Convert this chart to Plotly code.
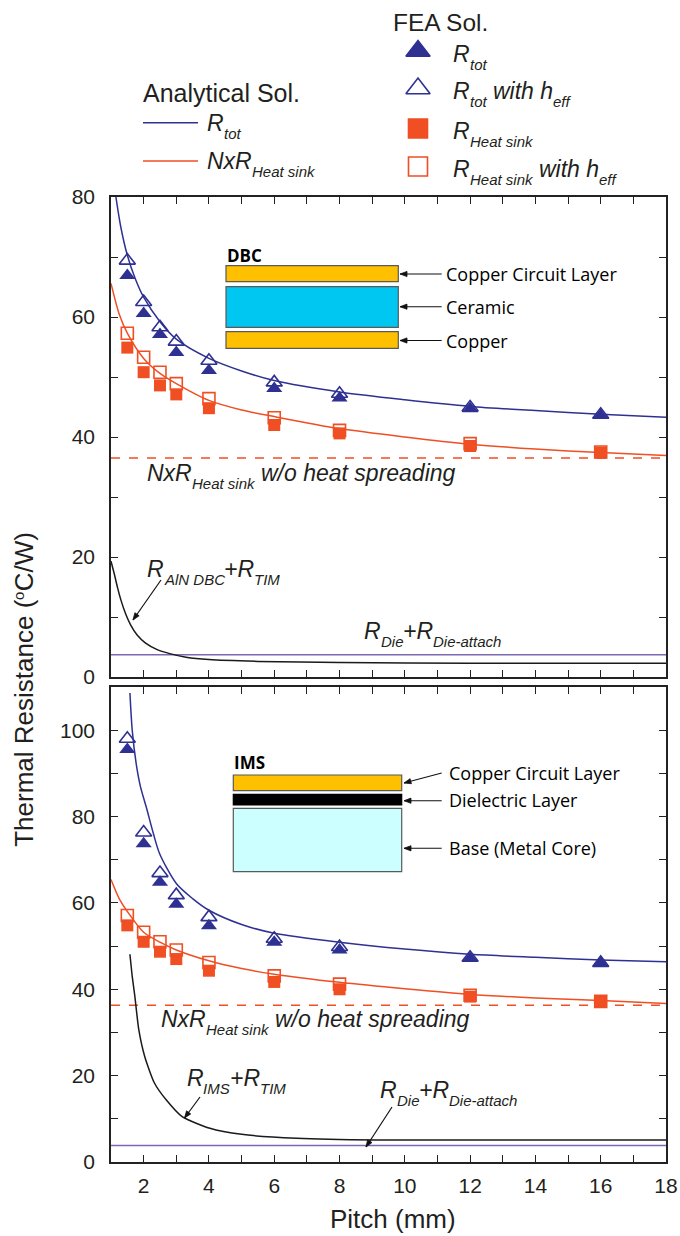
import math
import plotly.graph_objects as go

W, H = 680, 1236

# ---------------- data ----------------
pitch_fea = [1.5, 2, 2.5, 3, 4, 6, 8, 12, 16]

# DBC (top panel) FEA
dbc_rtot_fea = [66.9, 60.6, 57.1, 54.1, 51.1, 48.1, 46.5, 44.7, 43.6]
dbc_rtot_heff = [69.4, 62.5, 58.3, 55.9, 52.7, 49.1, 47.2, 44.9, 43.7]
dbc_rhs_fea = [54.9, 50.8, 48.6, 47.1, 44.8, 42.0, 40.6, 38.5, 37.4]
dbc_rhs_heff = [57.3, 53.3, 50.8, 48.9, 46.4, 43.2, 41.1, 38.9, 37.5]

# DBC analytical curves
dbc_tot_x = [1.15, 1.3, 1.5, 1.75, 2, 2.5, 3, 4, 5, 6, 8, 10, 12, 14, 16, 18]
dbc_tot_y = [80, 75, 70.3, 66.3, 63.3, 59.2, 56.3, 53.1, 51.0, 49.4, 47.5, 46.2, 45.1, 44.4, 43.8, 43.3]
dbc_hs_x = [1, 1.25, 1.5, 2, 2.5, 3, 4, 5, 6, 8, 10, 12, 14, 16, 18]
dbc_hs_y = [65.6, 60.5, 57.3, 53.1, 50.6, 48.9, 46.1, 44.5, 43.4, 41.4, 40.0, 38.8, 38.0, 37.4, 36.9]
dbc_tim_x = [1, 1.1, 1.2, 1.3, 1.45, 1.6, 1.8, 2.05, 2.4, 2.8, 3.3, 4.0, 5.5, 8, 12, 18]
dbc_tim_y = [19.3, 17.2, 14.9, 12.9, 10.5, 8.7, 7.0, 5.7, 4.6, 3.9, 3.3, 2.9, 2.6, 2.4, 2.3, 2.3]
dbc_die = 3.7
dbc_hs_nospread = 36.5

# IMS (bottom panel) FEA
ims_rtot_fea = [95.5, 73.7, 64.8, 59.7, 54.7, 50.9, 49.1, 47.1, 46.0]
ims_rtot_heff = [98.0, 76.3, 66.9, 61.8, 56.7, 51.7, 49.8, 47.3, 46.1]
ims_rhs_fea = [54.8, 51.0, 48.7, 47.0, 44.3, 41.7, 40.0, 38.3, 37.1]
ims_rhs_heff = [57.1, 53.2, 51.0, 49.1, 46.2, 43.1, 41.2, 38.6, 37.2]

# IMS analytical curves
ims_tot_x = [1.58, 1.65, 1.77, 1.9, 2.08, 2.3, 2.49, 3.0, 3.5, 4.0, 5.0, 6.0, 8.0, 10.0, 12.0, 14.0, 16.0, 18.0]
ims_tot_y = [108.6, 100.0, 92.3, 87.0, 82.2, 76.0, 71.4, 64.5, 61.0, 58.3, 55.0, 53.0, 50.9, 49.3, 48.1, 47.4, 46.8, 46.4]
ims_hs_x = [1, 1.25, 1.5, 2, 2.5, 3, 4, 5, 6, 8, 10, 12, 14, 16, 18]
ims_hs_y = [65.4, 61.0, 58.0, 53.2, 50.9, 49.1, 46.6, 44.8, 43.5, 41.6, 40.1, 38.8, 38.0, 37.4, 36.7]
ims_tim_x = [1.58, 1.65, 1.73, 1.85, 2.03, 2.33, 2.69, 3.18, 4.03, 5.0, 6.69, 9.1, 12.7, 18]
ims_tim_y = [48.1, 43.0, 38.4, 30.7, 24.5, 18.3, 14.4, 10.5, 7.8, 6.4, 5.5, 5.1, 5.1, 5.1]
ims_die = 3.8
ims_hs_nospread = 36.3

x_range = [1, 18]
x_ticks = [2, 4, 6, 8, 10, 12, 14, 16, 18]

# ---------------- styles ----------------
NAVY = "#2E3192"
RED = "#F04E23"
PURPLE = "#7B68B0"
BLK = "#1a1a1a"
TXT = "#231f20"
FONT = "Liberation Sans, Arial, sans-serif"
INSET_FONT = "Open Sans, sans-serif"

fig = go.Figure()


def add_panel(xa, ya, tot_x, tot_y, hs_x, hs_y, tim_x, tim_y, die, nospread,
              rtot, rtot_h, rhs, rhs_h):
    common = dict(xaxis=xa, yaxis=ya, showlegend=False, hoverinfo="skip")
    fig.add_trace(go.Scatter(x=x_range, y=[nospread, nospread], mode="lines",
                             line=dict(color=RED, width=1.5, dash="dash"), **common))
    fig.add_trace(go.Scatter(x=x_range, y=[die, die], mode="lines",
                             line=dict(color=PURPLE, width=1.5), **common))
    fig.add_trace(go.Scatter(x=tim_x, y=tim_y, mode="lines",
                             line=dict(color=BLK, width=1.5, shape="spline", smoothing=0.6), **common))
    fig.add_trace(go.Scatter(x=hs_x, y=hs_y, mode="lines",
                             line=dict(color=RED, width=1.5, shape="spline", smoothing=0.8), **common))
    fig.add_trace(go.Scatter(x=tot_x, y=tot_y, mode="lines",
                             line=dict(color=NAVY, width=1.5, shape="spline", smoothing=0.8), **common))
    fig.add_trace(go.Scatter(x=pitch_fea, y=rhs, mode="markers",
                             marker=dict(symbol="square", size=12, color=RED), **common))
    fig.add_trace(go.Scatter(x=pitch_fea, y=rhs_h, mode="markers",
                             marker=dict(symbol="square-open", size=12, color=RED,
                                         line=dict(width=1.6, color=RED)), **common))
    fig.add_trace(go.Scatter(x=pitch_fea, y=rtot, mode="markers",
                             marker=dict(symbol="triangle-up", size=14, color=NAVY), **common))
    fig.add_trace(go.Scatter(x=pitch_fea, y=rtot_h, mode="markers",
                             marker=dict(symbol="triangle-up-open", size=14, color=NAVY,
                                         line=dict(width=1.6, color=NAVY)), **common))


add_panel("x", "y", dbc_tot_x, dbc_tot_y, dbc_hs_x, dbc_hs_y, dbc_tim_x, dbc_tim_y,
          dbc_die, dbc_hs_nospread, dbc_rtot_fea, dbc_rtot_heff, dbc_rhs_fea, dbc_rhs_heff)
add_panel("x2", "y2", ims_tot_x, ims_tot_y, ims_hs_x, ims_hs_y, ims_tim_x, ims_tim_y,
          ims_die, ims_hs_nospread, ims_rtot_fea, ims_rtot_heff, ims_rhs_fea, ims_rhs_heff)

# ---------------- legend markers (pixel overlay axis x3/y3) ----------------
LEG_X = 418
leg_rows = [51, 88.5, 128.5, 166.5]
leg_syms = [("triangle-up", NAVY, 21), ("triangle-up-open", NAVY, 21),
            ("square", RED, 19), ("square-open", RED, 19)]
for yy, (sym, col, sz) in zip(leg_rows, leg_syms):
    fig.add_trace(go.Scatter(x=[LEG_X], y=[yy], mode="markers", xaxis="x3", yaxis="y3",
                             showlegend=False, hoverinfo="skip",
                             marker=dict(symbol=sym, size=sz, color=col,
                                         line=dict(width=1.6, color=col))))

ann = []
shapes = []

# Arial / Liberation Sans advance widths (1/1000 em)
AW = {" ": 278, "+": 584, "-": 333, ".": 278, "/": 278, "(": 333, ")": 333,
      "A": 667, "B": 667, "C": 722, "D": 722, "E": 667, "F": 611, "H": 722, "I": 278,
      "M": 833, "N": 722, "P": 667, "R": 722, "S": 667, "T": 611, "W": 944,
      "a": 556, "c": 500, "d": 556, "e": 556, "f": 278, "g": 556, "h": 556, "i": 222,
      "k": 500, "l": 222, "m": 833, "n": 556, "o": 556, "p": 556, "r": 333, "s": 500,
      "t": 278, "w": 722, "x": 500, "y": 500}


def tw(s, size):
    return sum(AW.get(c, 556) for c in s) * size / 1000.0


def text(x, y, s, size=23, xanchor="left", yanchor="middle", family=FONT, color=TXT,
         angle=0, style="normal"):
    ann.append(dict(x=x, y=y, xref="x3", yref="y3", text=s, showarrow=False,
                    xanchor=xanchor, yanchor=yanchor, textangle=angle,
                    borderpad=0, borderwidth=0,
                    font=dict(family=family, size=size, color=color, style=style)))


def rich(x, y, parts, main=23, sub=15, dy=10.5, anchor="left"):
    """Italic label with subscripts; parts = [(text, is_sub), ...]."""
    total = sum(tw(s, sub if k else main) for s, k in parts)
    cx = x - total / 2 if anchor == "center" else x
    for s, k in parts:
        size = sub if k else main
        lead = len(s) - len(s.lstrip())
        body = s.strip()
        if body:
            text(cx + tw(s[:lead], size), y + (dy if k else 0), body, size=size,
                 style="italic")
        cx += tw(s, size)


def arrow(x0, y0, x1, y1, width=1.2, hl=7.0, hw=2.6, color="#111"):
    shapes.append(dict(type="line", xref="x3", yref="y3", x0=x0, y0=y0, x1=x1, y1=y1,
                       line=dict(color=color, width=width), layer="above"))
    dx, dy = x1 - x0, y1 - y0
    L = math.hypot(dx, dy)
    ux, uy = dx / L, dy / L
    nx, ny = -uy, ux
    bx, by = x1 - hl * ux, y1 - hl * uy
    p = "M {:.2f},{:.2f} L {:.2f},{:.2f} L {:.2f},{:.2f} Z".format(
        x1, y1, bx + hw * nx, by + hw * ny, bx - hw * nx, by - hw * ny)
    shapes.append(dict(type="path", xref="x3", yref="y3", path=p, fillcolor=color,
                       line=dict(color=color, width=0.8), layer="above"))


# FEA legend
text(393, 22, "FEA Sol.", size=24.5)
leg_parts = [
    [("R", 0), ("tot", 1)],
    [("R", 0), ("tot", 1), (" with h", 0), ("eff", 1)],
    [("R", 0), ("Heat sink", 1)],
    [("R", 0), ("Heat sink", 1), (" with h", 0), ("eff", 1)],
]
for yy, parts in zip(leg_rows, leg_parts):
    rich(453, yy + 2.6, parts)

# Analytical legend
text(143, 93, "Analytical Sol.", size=25)
shapes.append(dict(type="line", xref="x3", yref="y3", x0=143, x1=198, y0=122.7, y1=122.7,
                   line=dict(color=NAVY, width=1.5)))
shapes.append(dict(type="line", xref="x3", yref="y3", x0=143, x1=198, y0=161, y1=161,
                   line=dict(color=RED, width=1.5)))
rich(207, 123, [("R", 0), ("tot", 1)])
rich(207, 161, [("NxR", 0), ("Heat sink", 1)])

# axis titles
TS = 26
ty = [("Thermal Resistance (", 0), ("o", 1), ("C/W)", 0)]
t_total = tw(ty[0][0], TS) + tw("o", 15) + tw(ty[2][0], TS)
cy = 690 + t_total / 2
for s, k in ty:
    size = 15 if k else TS
    w = tw(s, size)
    text(18 if k else 24, cy - w / 2, s, size=size, xanchor="center", angle=-90)
    cy -= w
text(393, 1219, "Pitch (mm)", size=26, xanchor="center")

# panel labels - top (DBC)
HS_LABEL = [("NxR", 0), ("Heat sink", 1), (" w/o heat spreading", 0)]
DIE_LABEL = [("R", 0), ("Die", 1), ("+R", 0), ("Die-attach", 1)]
rich(147, 473, HS_LABEL)
rich(147, 569, [("R", 0), ("AlN DBC", 1), ("+R", 0), ("TIM", 1)])
arrow(161, 580, 133, 620)
rich(364, 630.5, DIE_LABEL)

# panel labels - bottom (IMS)
rich(161, 1018.5, HS_LABEL)
rich(186.5, 1078, [("R", 0), ("IMS", 1), ("+R", 0), ("TIM", 1)])
arrow(200, 1097, 184.5, 1118)
rich(380, 1090, DIE_LABEL)
arrow(392, 1107, 366, 1147)

# ---------------- insets ----------------
GOLD = "#FFC000"
EDGE = "#595959"


def rect(x0, y0, x1, y1, fill, line=EDGE):
    shapes.append(dict(type="rect", xref="x3", yref="y3", x0=x0, x1=x1, y0=y0, y1=y1,
                       fillcolor=fill, line=dict(color=line, width=1.2), layer="above"))


# DBC
text(227, 255, "<b>DBC</b>", size=17, family=INSET_FONT, color="#000")
rect(226, 265.7, 398.3, 281.7, GOLD)
rect(226, 286.7, 398.3, 327.3, "#00C6F2")
rect(226, 331.7, 398.3, 348.3, GOLD)
for yy, s in [(274, "Copper Circuit Layer"), (306.7, "Ceramic"), (340.5, "Copper")]:
    arrow(441.7, yy, 400, yy, width=1.1)
    text(446, yy, s, size=18, family=INSET_FONT, color="#000")

# IMS
text(234, 762, "<b>IMS</b>", size=17, family=INSET_FONT, color="#000")
rect(233.3, 775, 401.7, 790.7, GOLD)
rect(233.3, 794.3, 401.7, 805, "#000000", line="#000000")
rect(233.3, 808.3, 401.7, 871.7, "#CCFFFF")
arrow(441.7, 773, 404, 783, width=1.1)
arrow(441.7, 800.7, 404, 800.7, width=1.1)
arrow(441.7, 848.3, 404, 848.3, width=1.1)
text(449, 773, "Copper Circuit Layer", size=18, family=INSET_FONT, color="#000")
text(449, 800, "Dielectric Layer", size=18, family=INSET_FONT, color="#000")
text(449, 848, "Base (Metal Core)", size=18, family=INSET_FONT, color="#000")

# ---------------- axes ----------------
XL, XR = 111, 666
TOP_T, TOP_B = 197, 677
BOT_T, BOT_B = 687, 1162


def ydom(t, b):
    return [1 - b / H, 1 - t / H]


axis_common = dict(showline=True, linecolor="#222", linewidth=1.5, mirror="ticks",
                   ticks="inside", ticklen=7, tickwidth=1.3, tickcolor="#222",
                   showgrid=False, zeroline=False, fixedrange=True, automargin=False,
                   tickfont=dict(family=FONT, size=21, color=TXT))
minor_x = dict(ticks="inside", dtick=1, tick0=1, ticklen=7, tickcolor="#222")
minor_y = dict(ticks="inside", dtick=10, tick0=0, ticklen=7, tickcolor="#222")

fig.update_layout(
    width=W, height=H, autosize=False,
    margin=dict(l=0, r=0, t=0, b=0, pad=0),
    paper_bgcolor="white", plot_bgcolor="rgba(0,0,0,0)",
    showlegend=False,
    xaxis=dict(domain=[XL / W, XR / W], range=x_range, anchor="y", tickvals=x_ticks,
               showticklabels=False, minor=minor_x, **axis_common),
    yaxis=dict(domain=ydom(TOP_T, TOP_B), range=[0, 80], anchor="x", dtick=20, tick0=0,
               ticklabelstandoff=10, minor=minor_y, **axis_common),
    xaxis2=dict(domain=[XL / W, XR / W], range=x_range, anchor="y2", tickvals=x_ticks,
                ticklabelstandoff=4, minor=minor_x, **axis_common),
    yaxis2=dict(domain=ydom(BOT_T, BOT_B), range=[0, 110], anchor="x2", dtick=20, tick0=0,
                ticklabelstandoff=10, minor=minor_y, **axis_common),
    xaxis3=dict(domain=[0, 1], range=[0, W], anchor="y3", visible=False, fixedrange=True,
                automargin=False),
    yaxis3=dict(domain=[0, 1], range=[H, 0], anchor="x3", visible=False, fixedrange=True,
                automargin=False),
    annotations=ann,
    shapes=shapes,
)

fig.write_html("out.html")
